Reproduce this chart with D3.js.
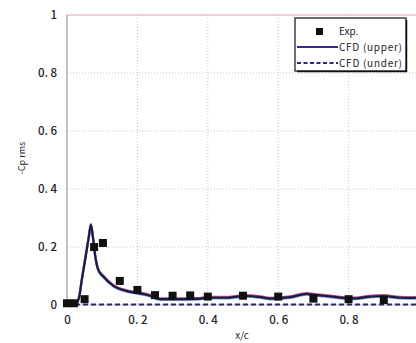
<!DOCTYPE html>
<html><head><meta charset="utf-8">
<script src="https://cdn.jsdelivr.net/npm/d3@7"></script>
<style>
body{margin:0;background:#fff;}
svg{display:block;}
text{font-family:"Noto Sans CJK JP","DejaVu Sans",sans-serif;fill:#222;}
</style></head>
<body>
<script>
// Data
const xTicks = [0, 0.2, 0.4, 0.6, 0.8];
const xTickLabels = ["0", "0. 2", "0. 4", "0. 6", "0. 8"];
const yTicks = [0, 0.2, 0.4, 0.6, 0.8, 1];
const yTickLabels = ["0", "0. 2", "0. 4", "0. 6", "0. 8", "1"];
const expX = [0, 0.02, 0.05, 0.077, 0.102, 0.15, 0.2, 0.25, 0.3, 0.35, 0.4, 0.5, 0.6, 0.7, 0.8, 0.9];
const expY = [0.006, 0.006, 0.02, 0.2, 0.214, 0.083, 0.052, 0.034, 0.032, 0.033, 0.029, 0.032, 0.029, 0.022, 0.02, 0.017];
const upperX = [0, 0.025, 0.035, 0.042, 0.05, 0.056, 0.062, 0.068, 0.074, 0.08, 0.089, 0.103, 0.132, 0.17, 0.207, 0.236, 0.264, 0.3, 0.37, 0.4, 0.45, 0.506, 0.55, 0.577, 0.635, 0.68, 0.71, 0.76, 0.79, 0.82, 0.86, 0.9, 0.945, 1.0];
const upperY = [0.003, 0.003, 0.03, 0.086, 0.145, 0.19, 0.235, 0.276, 0.23, 0.17, 0.12, 0.098, 0.066, 0.048, 0.04, 0.032, 0.02, 0.02, 0.021, 0.025, 0.025, 0.031, 0.027, 0.022, 0.027, 0.038, 0.034, 0.028, 0.024, 0.023, 0.029, 0.031, 0.025, 0.024];
const underX = [0, 1.0];
const underY = [0.002, 0.002];
const legendLabels = ["Exp.", "CFD (upper)", "CFD (under)"];

const W = 416, H = 343;
const svg = d3.select("body").append("svg").attr("width", W).attr("height", H);
const x = d3.scaleLinear().domain([0, 1]).range([67, 419]);
const y = d3.scaleLinear().domain([0, 1]).range([305, 15]);

// grid
const grid = svg.append("g");
grid.selectAll("line.v").data(xTicks.filter(d => d > 0)).join("line")
  .attr("x1", d => x(d)).attr("x2", d => x(d)).attr("y1", y(1)).attr("y2", y(0))
  .attr("stroke", "#c8c8c8").attr("stroke-width", 1).attr("stroke-dasharray", "1,2");
grid.selectAll("line.h").data(yTicks.filter(d => d > 0 && d < 1)).join("line")
  .attr("x1", x(0)).attr("x2", W).attr("y1", d => y(d)).attr("y2", d => y(d))
  .attr("stroke", "#c8c8c8").attr("stroke-width", 1).attr("stroke-dasharray", "1,2");

// frame
svg.append("line").attr("x1", x(0)).attr("x2", W).attr("y1", y(1)).attr("y2", y(1))
  .attr("stroke", "#d9a3b3").attr("stroke-width", 1.2);
svg.append("line").attr("x1", x(0)).attr("x2", x(0)).attr("y1", y(1)).attr("y2", y(0))
  .attr("stroke", "#999").attr("stroke-width", 1.2);
svg.append("line").attr("x1", x(0)).attr("x2", W).attr("y1", y(0)).attr("y2", y(0))
  .attr("stroke", "#bbb").attr("stroke-width", 1);

// axes labels via d3 axes
const xAxis = d3.axisBottom(x).tickValues(xTicks).tickFormat((d, i) => xTickLabels[i]).tickSize(0).tickPadding(11);
const gx = svg.append("g").attr("transform", `translate(0,${y(0)})`).call(xAxis);
gx.select(".domain").remove();
gx.selectAll("text").attr("font-size", 11.5).attr("font-weight", 500).style("font-family", '"Noto Sans CJK JP",sans-serif').attr("fill", "#1a1a1a");

const yAxis = d3.axisLeft(y).tickValues(yTicks).tickFormat((d, i) => yTickLabels[i]).tickSize(0).tickPadding(10);
const gy = svg.append("g").attr("transform", `translate(${x(0)},0)`).call(yAxis);
gy.select(".domain").remove();
gy.selectAll("text").attr("font-size", 11.5).attr("font-weight", 500).style("font-family", '"Noto Sans CJK JP",sans-serif').attr("fill", "#1a1a1a");

svg.append("text").attr("x", 242).attr("y", 339).attr("text-anchor", "middle").attr("font-size", 10).text("x/c");
svg.append("text").attr("transform", "translate(25,158) rotate(-90)").attr("text-anchor", "middle").attr("font-size", 9).text("-Cp rms");

// lines
const line = d3.line().x(d => x(d[0])).y(d => y(d[1])).curve(d3.curveMonotoneX);
const upperData = upperX.map((d, i) => [d, upperY[i]]);
svg.append("path").datum(upperData).attr("d", line).attr("fill", "none")
  .attr("stroke", "#c0506a").attr("stroke-width", 2.4).attr("transform", "translate(0,-0.7)");
svg.append("path").datum(upperData).attr("d", line).attr("fill", "none")
  .attr("stroke", "#6a9ad8").attr("stroke-width", 2).attr("transform", "translate(0,0.8)");
svg.append("path").datum(upperData).attr("d", line).attr("fill", "none")
  .attr("stroke", "#1c1a4a").attr("stroke-width", 2.2);
const underData = underX.map((d, i) => [d, underY[i]]);
svg.append("path").datum(underData).attr("d", d3.line().x(d => x(d[0])).y(d => y(d[1]))).attr("fill", "none")
  .attr("stroke", "#2a2a78").attr("stroke-width", 2).attr("stroke-dasharray", "5,3");

// points
svg.selectAll("rect.exp").data(expX.map((d, i) => [d, expY[i]])).join("rect")
  .attr("x", d => x(d[0]) - 4).attr("y", d => y(d[1]) - 4).attr("width", 8).attr("height", 8)
  .attr("fill", "#111");

// legend
const lg = svg.append("g");
lg.append("rect").attr("x", 295).attr("y", 18).attr("width", 111).attr("height", 53)
  .attr("fill", "#fff").attr("stroke", "#111").attr("stroke-width", 1.2);
lg.append("line").attr("x1", 297).attr("x2", 407).attr("y1", 71.5).attr("y2", 71.5).attr("stroke", "#111").attr("stroke-width", 1.5);
lg.append("line").attr("x1", 406.5).attr("x2", 406.5).attr("y1", 20).attr("y2", 72).attr("stroke", "#111").attr("stroke-width", 1.5);
lg.append("rect").attr("x", 316).attr("y", 28).attr("width", 7).attr("height", 7).attr("fill", "#111");
lg.append("line").attr("x1", 297).attr("x2", 338).attr("y1", 47).attr("y2", 47).attr("stroke", "#3a2a7a").attr("stroke-width", 2);
lg.append("line").attr("x1", 297).attr("x2", 338).attr("y1", 63).attr("y2", 63).attr("stroke", "#2a2a78").attr("stroke-width", 2).attr("stroke-dasharray", "4,2.5");
lg.selectAll("text.l").data(legendLabels).join("text")
  .attr("x", 339).attr("y", (d, i) => 35 + i * 16)
  .attr("font-size", 10).attr("textLength", (d, i) => i === 0 ? null : 63).text(d => d);
</script>
</body></html>
